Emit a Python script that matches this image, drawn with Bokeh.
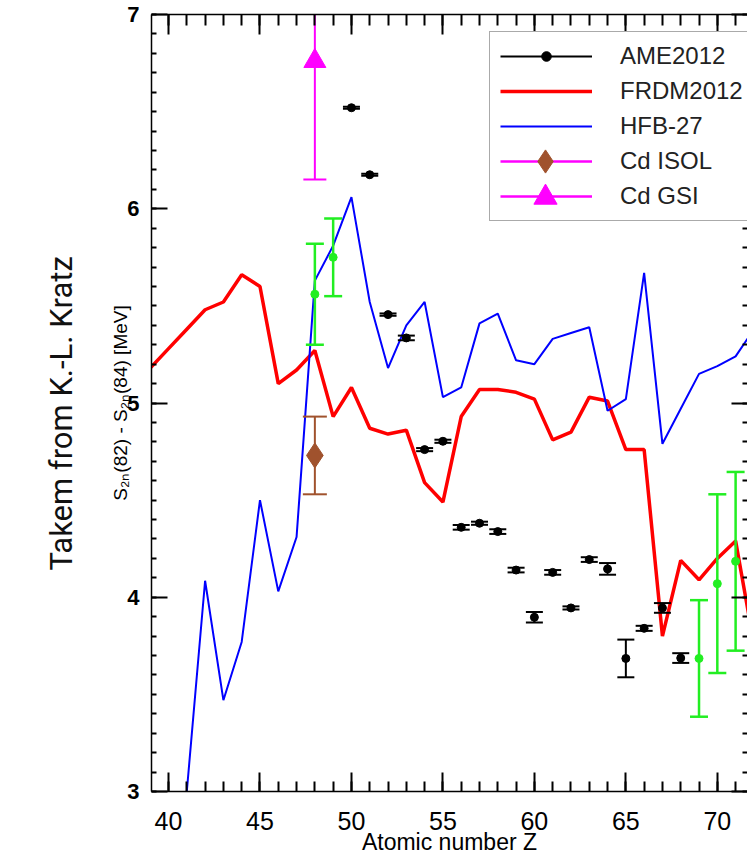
import numpy as np
from bokeh.plotting import figure
from bokeh.models import (ColumnDataSource, Range1d, LinearAxis, FixedTicker,
                          Legend, LegendItem, Title)
from bokeh.embed import file_html
from bokeh.resources import INLINE

# ---------------- data ----------------
frdm_z = [39, 40, 41, 42, 43, 44, 45, 46, 47, 48, 49, 50, 51, 52, 53, 54, 55,
          56, 57, 58, 59, 60, 61, 62, 63, 64, 65, 66, 67, 68, 69, 70, 71, 72]
frdm_v = [5.18, 5.28, 5.38, 5.48, 5.52, 5.66, 5.60, 5.10, 5.17, 5.27, 4.93, 5.08,
          4.87, 4.84, 4.86, 4.59, 4.49, 4.93, 5.07, 5.07, 5.055, 5.02, 4.81, 4.85,
          5.03, 5.01, 4.76, 4.76, 3.80, 4.19, 4.09, 4.20, 4.29, 3.76]

hfb_z = [41, 42, 43, 44, 45, 46, 47, 48, 49, 50, 51, 52, 53, 54, 55, 56, 57,
         58, 59, 60, 61, 62, 63, 64, 65, 66, 67, 68, 69, 70, 71, 72]
hfb_v = [3.00, 4.085, 3.47, 3.77, 4.50, 4.03, 4.31, 5.63, 5.81, 6.06, 5.52, 5.18,
         5.40, 5.52, 5.03, 5.08, 5.41, 5.46, 5.22, 5.20, 5.33, 5.36, 5.39, 4.96,
         5.02, 5.67, 4.79, 4.97, 5.15, 5.19, 5.24, 5.38]

ame_z = [50, 51, 52, 53, 54, 55, 56, 57, 58, 59, 60, 61, 62, 63, 64, 65, 66, 67, 68]
ame_v = [6.52, 6.175, 5.455, 5.335, 4.76, 4.803, 4.36, 4.381, 4.338, 4.14, 3.897,
         4.128, 3.945, 4.194, 4.146, 3.685, 3.84, 3.945, 3.687]
ame_e = [0.005, 0.005, 0.006, 0.012, 0.008, 0.008, 0.012, 0.008, 0.012, 0.012, 0.027,
         0.012, 0.008, 0.012, 0.030, 0.097, 0.013, 0.025, 0.025]

new_z = [48, 49, 69, 70, 71]
new_v = [5.56, 5.75, 3.685, 4.07, 4.185]
new_e = [0.26, 0.20, 0.30, 0.46, 0.46]

isol_z = [48]
isol_v = [4.73]
isol_e = [0.20]

gsi_z = [48]
gsi_v = [6.76]
gsi_e = [0.61]

x_major = [40, 45, 50, 55, 60, 65, 70]
x_minor = list(range(39, 73))
y_major = [3, 4, 5, 6, 7]
y_minor = [round(3 + 0.1 * i, 1) for i in range(41)]

# ---------------- figure ----------------
p = figure(width=747, height=861, output_backend="svg", toolbar_location=None,
           x_range=Range1d(39.07, 71.65), y_range=Range1d(3, 7),
           min_border_left=151, min_border_right=0, min_border_top=14,
           min_border_bottom=70, background_fill_color="white",
           border_fill_color="white", outline_line_color=None)
p.grid.visible = False

AX_FONT = "Liberation Sans"

# bottom axis
xa = p.xaxis[0]
xa.ticker = FixedTicker(ticks=x_major, minor_ticks=x_minor)
xa.major_tick_in = 19
xa.major_tick_out = 0
xa.minor_tick_in = 10
xa.minor_tick_out = 0
xa.major_tick_line_width = 2
xa.minor_tick_line_width = 2
xa.axis_line_width = 1.5
xa.major_label_text_font = AX_FONT
xa.major_label_text_font_size = "25px"
xa.major_label_text_color = "black"
xa.major_label_standoff = 20
xa.axis_label = "Atomic number Z"
xa.axis_label_text_font = AX_FONT
xa.axis_label_text_font_size = "23px"
xa.axis_label_text_font_style = "normal"
xa.axis_label_text_color = "black"
xa.axis_label_standoff = -4

# left axis
ya = p.yaxis[0]
ya.ticker = FixedTicker(ticks=y_major, minor_ticks=y_minor)
ya.major_tick_in = 16
ya.major_tick_out = 0
ya.minor_tick_in = 5
ya.minor_tick_out = 0
ya.major_tick_line_width = 2
ya.minor_tick_line_width = 2
ya.axis_line_width = 1.5
ya.major_label_text_font = AX_FONT
ya.major_label_text_font_size = "22px"
ya.major_label_text_font_style = "bold"
ya.major_label_text_color = "black"
ya.major_label_standoff = 12
ya.axis_label = "S\u2082\u2099(82) - S\u2082\u2099(84) [MeV]"
ya.axis_label_text_font = AX_FONT
ya.axis_label_text_font_size = "19px"
ya.axis_label_text_font_style = "normal"
ya.axis_label_text_color = "black"
ya.axis_label_standoff = -7


def tick_axis(ticks, length, show_line):
    return LinearAxis(ticker=FixedTicker(ticks=[], minor_ticks=ticks),
                      major_tick_in=0, major_tick_out=0,
                      minor_tick_in=length, minor_tick_out=0,
                      minor_tick_line_width=2,
                      axis_line_width=1.5,
                      axis_line_color="black" if show_line else None,
                      major_label_standoff=0)


# top axis (ticks only)
p.add_layout(tick_axis(x_major, 20, True), "above")
p.add_layout(tick_axis(x_minor, 11, False), "above")
# right axis (ticks only)
p.add_layout(tick_axis(y_major, 16, False), "right")
p.add_layout(tick_axis(y_minor, 5, False), "right")

# left title
p.add_layout(Title(text="Takem from K.-L. Kratz", align="left", offset=221,
                   text_font="Roboto",
                   text_font_size="31px", text_font_style="normal",
                   text_color="#111111", standoff=56), "left")

# ---------------- glyphs ----------------
frdm_r = p.line(frdm_z, frdm_v, line_color="#ff0000", line_width=3.5)
hfb_r = p.line(hfb_z, hfb_v, line_color="#0000ff", line_width=2)


def errbars(z, v, e, color, lw, cap):
    src = ColumnDataSource(dict(z=z, v=v,
                                lo=[a - b for a, b in zip(v, e)],
                                hi=[a + b for a, b in zip(v, e)]))
    p.segment(x0="z", y0="lo", x1="z", y1="hi", source=src,
              line_color=color, line_width=lw)
    p.scatter(x="z", y="lo", marker="dash", size=cap, source=src,
              line_color=color, line_width=lw)
    p.scatter(x="z", y="hi", marker="dash", size=cap, source=src,
              line_color=color, line_width=lw)
    return src


GREEN = "#22ee22"
MAG = "#ff00ff"
BROWN = "#a0522d"

errbars(ame_z, ame_v, ame_e, "black", 2, 17)
ame_r = p.scatter(ame_z, ame_v, marker="circle", size=8, color="black")

errbars(new_z, new_v, new_e, GREEN, 2.5, 18)
p.scatter(new_z, new_v, marker="circle", size=8, color=GREEN)

errbars(isol_z, isol_v, isol_e, BROWN, 2, 24)
isol_r = p.scatter(isol_z, isol_v, marker="diamond", size=25, color=BROWN)

errbars(gsi_z, gsi_v, gsi_e, MAG, 2, 23)
gsi_r = p.scatter(gsi_z, gsi_v, marker="triangle", size=22, color=MAG)

# legend-only line glyphs (no visible data)
ame_line = p.line(x=[np.nan], y=[np.nan], line_color="black", line_width=2)
mag_line = p.line(x=[np.nan], y=[np.nan], line_color=MAG, line_width=2.5)

LEG_X = 338
legend = Legend(items=[
    LegendItem(label="AME2012", renderers=[ame_line, ame_r]),
    LegendItem(label="FRDM2012", renderers=[frdm_r]),
    LegendItem(label="HFB-27", renderers=[hfb_r]),
    LegendItem(label="Cd ISOL", renderers=[mag_line]),
    LegendItem(label="Cd GSI", renderers=[mag_line]),
], location=(LEG_X, 570), glyph_width=92, glyph_height=24, label_height=24,
    label_standoff=28, padding=10, spacing=7, margin=0,
    label_text_font=AX_FONT, label_text_font_size="24px", label_text_color="#222222",
    border_line_color="#555555", border_line_width=1.5,
    background_fill_color="white", background_fill_alpha=1.0)
p.add_layout(legend, "center")

# large legend markers (Bokeh scales legend markers with glyph height)
for rend, y0 in ((isol_r, 601), (gsi_r, 565)):
    p.add_layout(Legend(items=[LegendItem(label=" ", renderers=[rend])],
                        location=(LEG_X + 10, y0), glyph_width=92, glyph_height=58,
                        label_height=24, padding=0, spacing=0, margin=0,
                        label_standoff=0, label_text_font_size="24px",
                        border_line_color=None, background_fill_alpha=0.0), "center")

open("out.html", "w").write(file_html(p, INLINE))
